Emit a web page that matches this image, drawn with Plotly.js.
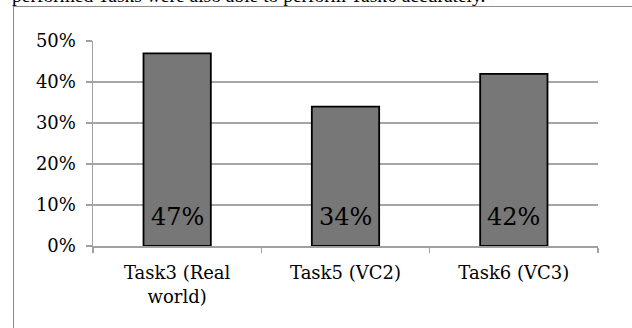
<!DOCTYPE html>
<html>
<head>
<meta charset="utf-8">
<script src="https://cdn.plot.ly/plotly-3.0.1.min.js"></script>
<style>
  html, body { margin: 0; padding: 0; background: #ffffff; overflow: hidden; }
  #wrap { position: relative; width: 632px; height: 328px; }
  #frame { position: absolute; left: 13px; top: 6px; width: 700px; height: 400px;
           border-left: 1px solid #8c8c8c; border-top: 1px solid #8c8c8c; box-sizing: border-box; }
  #chart { position: absolute; left: 0; top: 0; width: 632px; height: 328px; }
</style>
</head>
<body>
<div id="wrap">
  <div id="frame"></div>
  <div id="chart"></div>
</div>
<script>
// Share of participants who completed each task accurately (percent)
const categories = ['Task3 (Real<br>world)', 'Task5 (VC2)', 'Task6 (VC3)'];
const percentValues = [47, 34, 42];
const yTickValues = [0, 10, 20, 30, 40, 50];
const yTickLabels = yTickValues.map(v => v + '%');
const captionText = 'performed Tasks were also able to perform Task6 accurately.';

const serif = 'DejaVu Serif, serif';

const bars = {
  type: 'bar',
  x: categories,
  y: percentValues,
  width: 0.4,
  marker: { color: '#777777', line: { color: '#000000', width: 1.8 } },
  hoverinfo: 'skip'
};

// value labels sit near the base of each bar
const valueLabels = categories.map((c, i) => ({
  x: c, y: 0, xref: 'x', yref: 'y',
  text: percentValues[i] + '%',
  showarrow: false,
  yanchor: 'middle',
  yshift: 29,
  font: { family: serif, size: 24, color: '#000000' }
}));

// running document text just above the chart box
const caption = {
  xref: 'paper', yref: 'paper', x: -0.164, y: 1,
  xanchor: 'left', yanchor: 'bottom', yshift: 33,
  text: captionText, showarrow: false,
  font: { family: 'Liberation Serif, serif', size: 19.5, color: '#000000' }
};

const layout = {
  width: 632, height: 328,
  margin: { l: 93, r: 34, t: 41, b: 82, pad: 0 },
  paper_bgcolor: 'rgba(0,0,0,0)',
  plot_bgcolor: 'rgba(0,0,0,0)',
  showlegend: false,
  font: { family: serif, size: 18, color: '#000000' },
  xaxis: {
    type: 'category',
    showgrid: false,
    showline: true, linecolor: '#a0a0a0', linewidth: 1.5,
    ticks: 'outside', tickson: 'boundaries', ticklen: 5, tickcolor: '#a0a0a0', tickwidth: 1.5,
    ticklabelstandoff: 10,
    tickfont: { family: serif, size: 18, color: '#000000' },
    fixedrange: true
  },
  yaxis: {
    range: [0, 50],
    tickmode: 'array',
    tickvals: yTickValues,
    ticktext: yTickLabels,
    showgrid: true, gridcolor: '#a6a6a6', gridwidth: 1.5,
    showline: true, linecolor: '#a0a0a0', linewidth: 1.5,
    ticks: 'outside', ticklen: 6, tickcolor: '#a0a0a0', tickwidth: 1.5,
    ticklabelstandoff: 6,
    tickfont: { family: serif, size: 18, color: '#000000' },
    zeroline: false,
    fixedrange: true
  },
  annotations: valueLabels.concat([caption])
};

Plotly.newPlot('chart', [bars], layout, { displayModeBar: false, staticPlot: true });
</script>
</body>
</html>
